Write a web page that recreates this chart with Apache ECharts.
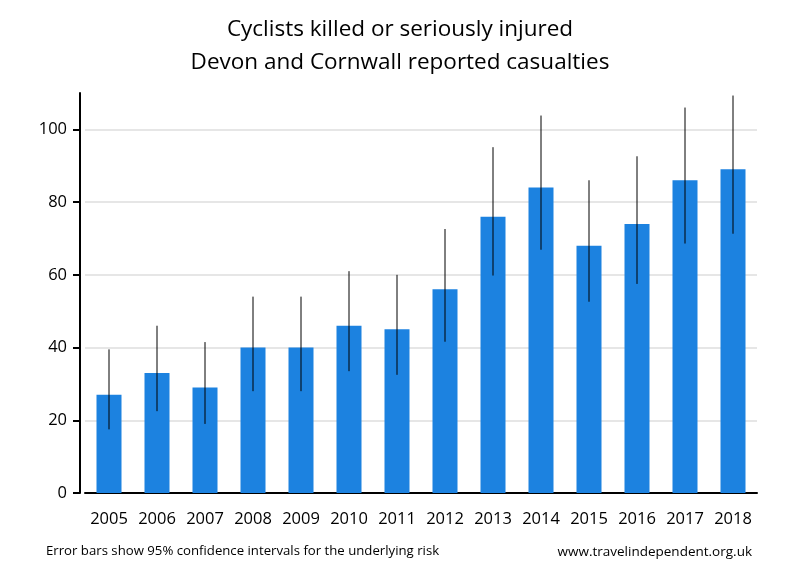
<!DOCTYPE html>
<html>
<head>
<meta charset="utf-8">
<script src="https://cdn.jsdelivr.net/npm/echarts@6/dist/echarts.min.js"></script>
<style>html,body{margin:0;padding:0;background:#fff}#c{width:800px;height:580px}</style>
</head>
<body>
<div id="c"></div>
<script>
const years = ['2005','2006','2007','2008','2009','2010','2011','2012','2013','2014','2015','2016','2017','2018'];
const casualties = [27, 33, 29, 40, 40, 46, 45, 56, 76, 84, 68, 74, 86, 89];
const ciLow  = [17.5, 22.5, 19, 28, 28, 33.5, 32.5, 41.6, 59.8, 66.9, 52.6, 57.5, 68.6, 71.3];
const ciHigh = [39.5, 46, 41.5, 54, 54, 61, 60, 72.6, 95.1, 103.8, 86, 92.6, 106, 109.3];
const yTicks = [0, 20, 40, 60, 80, 100];

const chart = echarts.init(document.getElementById('c'), null, {renderer: 'canvas'});
const font = '"Open Sans", "DejaVu Sans", sans-serif';
chart.setOption({
  animation: false,
  backgroundColor: '#fff',
  title: {
    text: 'Cyclists killed or seriously injured\nDevon and Cornwall reported casualties',
    left: 'center', top: 8,
    textStyle: {fontFamily: font, fontSize: 22.5, fontWeight: 'normal', color: '#000', lineHeight: 33}
  },
  grid: {left: 85, right: 43, top: 93, bottom: 87},
  xAxis: {
    type: 'category', data: years,
    axisLine: {lineStyle: {color: '#000', width: 2}},
    axisTick: {show: false},
    axisLabel: {color: '#000', fontFamily: font, fontSize: 16.5, margin: 18, interval: 0, hideOverlap: false}
  },
  yAxis: {
    type: 'value', min: 0, max: 110, interval: 20, offset: 5,
    axisLine: {show: true, lineStyle: {color: '#000', width: 2}},
    axisTick: {show: true, length: 7, lineStyle: {color: '#000', width: 2}, customValues: yTicks},
    axisLabel: {color: '#000', fontFamily: font, fontSize: 16.5, margin: 13, customValues: yTicks},
    splitLine: {show: true, lineStyle: {color: '#e6e6e6', width: 2}}
  },
  series: [
    {
      type: 'bar', data: casualties, barWidth: 25,
      itemStyle: {color: '#1c82e0'}
    },
    {
      type: 'custom',
      data: years.map((y, i) => [i, ciLow[i], ciHigh[i]]),
      renderItem: function (params, api) {
        const lo = api.coord([api.value(0), api.value(1)]);
        const hi = api.coord([api.value(0), api.value(2)]);
        return {
          type: 'line',
          shape: {x1: lo[0], y1: lo[1], x2: hi[0], y2: hi[1]},
          style: {stroke: '#000', lineWidth: 1}
        };
      },
      z: 5
    }
  ],
  graphic: [
    {type: 'text', left: 46, top: 545, style: {text: 'Error bars show 95% confidence intervals for the underlying risk', font: '13.2px "Open Sans", sans-serif', fill: '#000'}},
    {type: 'text', right: 48, top: 545, style: {text: 'www.travelindependent.org.uk', font: '13.5px "Open Sans", sans-serif', fill: '#000'}}
  ]
});
</script>
</body>
</html>
